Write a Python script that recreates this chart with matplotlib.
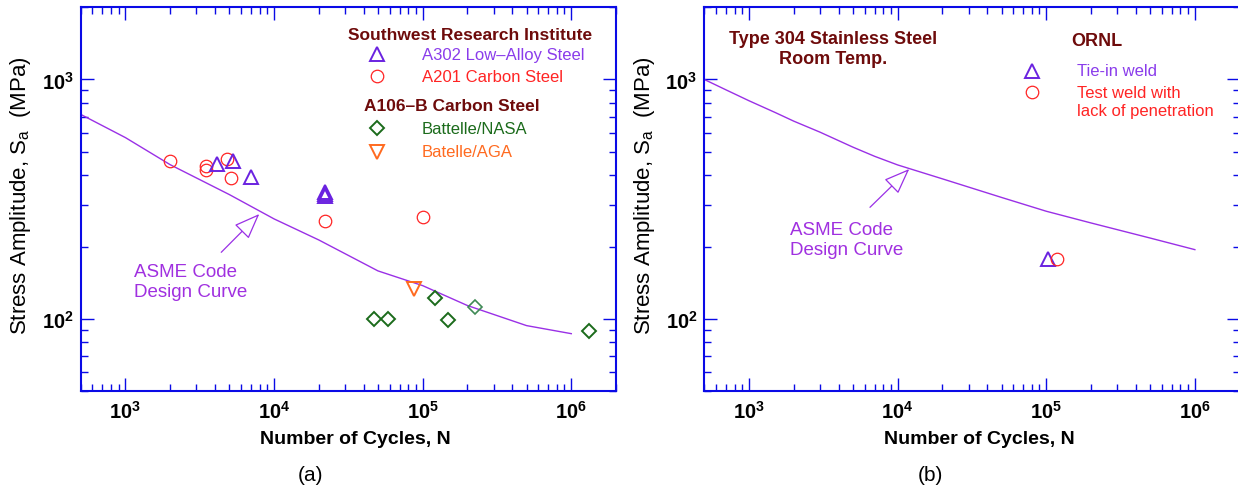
import numpy as np
import matplotlib
matplotlib.use('Agg')
import matplotlib.pyplot as plt
from matplotlib.ticker import LogLocator, FuncFormatter, NullFormatter

plt.rcParams['font.family'] = ['Liberation Sans', 'DejaVu Sans']
plt.rcParams['mathtext.fontset'] = 'custom'
plt.rcParams['mathtext.rm'] = 'Liberation Sans'
plt.rcParams['mathtext.bf'] = 'Liberation Sans:bold'

# ---- data (a): carbon & low-alloy steels ----
asme_cs_n = [500, 1e3, 2e3, 5e3, 1e4, 2e4, 5e4, 1e5, 2e5, 5e5, 1e6]
asme_cs_s = [715, 572, 441, 331, 262, 214, 159, 138, 114, 94, 87]

a302_n = [4160, 5320, 7000, 21900, 21900, 21900]
a302_s = [444, 455, 390, 340, 332, 325]

a201_n = [2000, 3500, 3500, 4800, 5100, 21900, 100000]
a201_s = [455, 436, 420, 464, 387, 257, 268]

nasa_n = [47400, 58800, 121000, 147000, 1310000]
nasa_s = [100, 100, 123, 99, 89]
nasa_light_n = [224000]
nasa_light_s = [112]

aga_n = [86900]
aga_s = [134]

# ---- data (b): type 304 stainless steel ----
asme_ss_n = [500, 700, 1e3, 1.5e3, 2e3, 3e3, 5e3, 7e3, 1e4, 2e4, 5e4, 1e5, 2e5, 5e5, 1e6]
asme_ss_s = [1000, 905, 815, 728, 670, 603, 522, 478, 440, 385, 322, 282, 252, 218, 195]

tiein_n = [103000]
tiein_s = [178]
testweld_n = [119000]
testweld_s = [179]

# colours
BLUE = '#0A0AE6'
MAROON = '#6E0B0B'
PURPLE_MK = '#6A22E0'
PURPLE_TX = '#8A3CEB'
CURVE = '#9A30E6'
ASME_TX = '#A030E0'
RED = '#FF2424'
GREEN = '#1B6B1B'
GREEN_LT = '#3F8A55'
ORANGE = '#FF6A1F'

fig = plt.figure(figsize=(12.38, 4.89), dpi=100)
axa = fig.add_axes([0.0652, 0.1977, 0.4324, 0.7853])
axb = fig.add_axes([0.5689, 0.1977, 0.4324, 0.7853])


def dec_fmt(v, pos):
    return r'$\mathbf{10^{%d}}$' % int(round(np.log10(v)))


def style_axes(ax):
    ax.set_xscale('log')
    ax.set_yscale('log')
    ax.set_xlim(500, 2e6)
    ax.set_ylim(50, 2000)
    for sp in ax.spines.values():
        sp.set_color(BLUE)
        sp.set_linewidth(1.5)
    ax.xaxis.set_major_locator(LogLocator(base=10, numticks=20))
    ax.xaxis.set_minor_locator(LogLocator(base=10, subs=np.arange(2, 10), numticks=20))
    ax.yaxis.set_major_locator(LogLocator(base=10, numticks=20))
    ax.yaxis.set_minor_locator(LogLocator(base=10, subs=np.arange(2, 10), numticks=20))
    ax.xaxis.set_major_formatter(FuncFormatter(dec_fmt))
    ax.yaxis.set_major_formatter(FuncFormatter(dec_fmt))
    ax.xaxis.set_minor_formatter(NullFormatter())
    ax.yaxis.set_minor_formatter(NullFormatter())
    ax.tick_params(which='both', direction='in', top=True, right=True,
                   color=BLUE, width=1.0, labelsize=14.5, labelcolor='black')
    ax.tick_params(which='major', length=9.5)
    ax.tick_params(which='minor', length=5)
    ax.tick_params(axis='x', which='major', pad=6)
    ax.tick_params(axis='y', which='major', pad=5)
    ax.set_xlabel('Number of Cycles, N', fontsize=14, fontweight='bold')
    ax.set_ylabel('Stress Amplitude, S$_\\mathregular{a}$  (MPa)', fontsize=16)
    ax.xaxis.set_label_coords(0.514, -0.102)
    ax.yaxis.set_label_coords(-0.089, 0.511)


for ax in (axa, axb):
    style_axes(ax)

# ---------------- panel (a) ----------------
axa.plot(asme_cs_n, asme_cs_s, color=CURVE, lw=1.0)
axa.plot(a201_n, a201_s, 'o', mfc='none', mec=RED, mew=0.9, ms=9)
axa.plot(a302_n, a302_s, '^', mfc='none', mec=PURPLE_MK, mew=1.4, ms=10)
axa.plot(nasa_n, nasa_s, 'D', mfc='none', mec=GREEN, mew=1.4, ms=7.5)
axa.plot(nasa_light_n, nasa_light_s, 'D', mfc='none', mec=GREEN_LT, mew=1.2, ms=7.5)
axa.plot(aga_n, aga_s, 'v', mfc='none', mec=ORANGE, mew=1.4, ms=10)

tr = axa.transAxes
axa.text(0.4993, 0.9305, 'Southwest Research Institute', transform=tr,
         fontsize=12.5, fontweight='bold', color=MAROON, va='center')
axa.plot([0.553], [0.8784], '^', transform=tr, mfc='none', mec=PURPLE_MK, mew=1.4, ms=10)
axa.text(0.637, 0.8784, 'A302 Low\u2013Alloy Steel', transform=tr, fontsize=12,
         color=PURPLE_TX, va='center')
axa.plot([0.553], [0.820], 'o', transform=tr, mfc='none', mec=RED, mew=0.9, ms=9)
axa.text(0.637, 0.820, 'A201 Carbon Steel', transform=tr, fontsize=12,
         color=RED, va='center')
axa.text(0.529, 0.7456, 'A106\u2013B Carbon Steel', transform=tr,
         fontsize=12.5, fontweight='bold', color=MAROON, va='center')
axa.plot([0.553], [0.685], 'D', transform=tr, mfc='none', mec=GREEN, mew=1.4, ms=7.5)
axa.text(0.637, 0.685, 'Battelle/NASA', transform=tr, fontsize=12,
         color=GREEN, va='center')
axa.plot([0.553], [0.624], 'v', transform=tr, mfc='none', mec=ORANGE, mew=1.4, ms=10)
axa.text(0.637, 0.624, 'Batelle/AGA', transform=tr, fontsize=12,
         color=ORANGE, va='center')

axa.text(0.0996, 0.286, 'ASME Code\nDesign Curve', transform=tr, fontsize=13.5,
         color=ASME_TX, va='center', ha='left', linespacing=1.3)
axa.annotate('', xy=(0.3336, 0.4617), xytext=(0.2625, 0.362),
             xycoords=tr, textcoords=tr,
             arrowprops=dict(arrowstyle='-|>,head_length=0.9,head_width=0.35',
                             fc='white', ec=CURVE, lw=0.9, mutation_scale=18,
                             shrinkA=0, shrinkB=0))

# ---------------- panel (b) ----------------
axb.plot(asme_ss_n, asme_ss_s, color=CURVE, lw=1.0)
axb.plot(tiein_n, tiein_s, '^', mfc='none', mec=PURPLE_MK, mew=1.4, ms=10)
axb.plot(testweld_n, testweld_s, 'o', mfc='none', mec=RED, mew=0.9, ms=9)

tr = axb.transAxes
axb.text(0.2404, 0.8935, 'Type 304 Stainless Steel\nRoom Temp.', transform=tr,
         fontsize=13, fontweight='bold', color=MAROON, ha='center', va='center',
         linespacing=1.25)
axb.text(0.733, 0.913, 'ORNL', transform=tr, fontsize=13, fontweight='bold',
         color=MAROON, ha='center', va='center')
axb.plot([0.6126], [0.8349], '^', transform=tr, mfc='none', mec=PURPLE_MK, mew=1.4, ms=10)
axb.text(0.6967, 0.8349, 'Tie-in weld', transform=tr, fontsize=12,
         color=PURPLE_TX, va='center')
axb.plot([0.6126], [0.780], 'o', transform=tr, mfc='none', mec=RED, mew=0.9, ms=9)
axb.text(0.6967, 0.755, 'Test weld with\nlack of penetration', transform=tr,
         fontsize=12, color=RED, va='center', linespacing=1.2)

axb.text(0.16, 0.3953, 'ASME Code\nDesign Curve', transform=tr, fontsize=13.5,
         color=ASME_TX, va='center', ha='left', linespacing=1.3)
axb.annotate('', xy=(0.3829, 0.5789), xytext=(0.3095, 0.4792),
             xycoords=tr, textcoords=tr,
             arrowprops=dict(arrowstyle='-|>,head_length=0.9,head_width=0.35',
                             fc='white', ec=CURVE, lw=0.9, mutation_scale=18,
                             shrinkA=0, shrinkB=0))

fig.text(0.2512, 0.0286, '(a)', fontsize=15, ha='center', va='center')
fig.text(0.7515, 0.0286, '(b)', fontsize=15, ha='center', va='center')

fig.savefig('out.png', dpi=100)
